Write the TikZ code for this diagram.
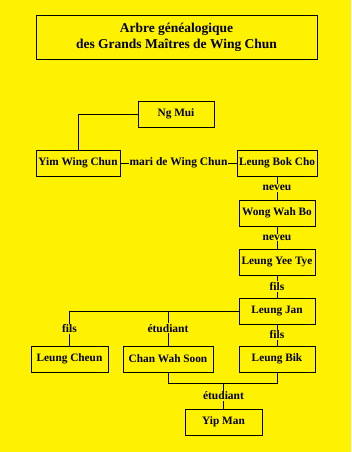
\documentclass[tikz,border=0pt]{standalone}
\usepackage{fontspec}
\setmainfont{Liberation Serif}
\usetikzlibrary{positioning}

\begin{document}
\begin{tikzpicture}[x=1pt,y=-1pt,
    person/.style={draw=black,line width=1pt,minimum height=26pt,minimum width=76pt,inner sep=2pt,align=center,font=\bfseries\fontsize{11.3}{13}\selectfont},
    rel/.style={fill=yellow,inner sep=1pt,font=\bfseries\fontsize{11.5}{13}\selectfont},
    link/.style={line width=1pt}]
    \fill[yellow] (0,0) rectangle (351,452);
    \useasboundingbox (0,0) rectangle (351,452);
    \node[person,minimum width=281pt,minimum height=44pt,font=\bfseries\fontsize{13.5}{16.5}\selectfont] (title) at (176.5,37.5) {Arbre généalogique\\des Grands Maîtres de Wing Chun};
    \node[person] (ngmui) at (176,114) {Ng Mui};
    \node[person,minimum width=84pt] (yim) at (78,163) {Yim Wing Chun};
    \node[person,minimum width=80pt] (bokcho) at (277,163) {Leung Bok Cho};
    \node[person] (wong) at (277,213) {Wong Wah Bo};
    \node[person] (yeetye) at (277,262) {Leung Yee Tye};
    \node[person] (jan) at (277,311) {Leung Jan};
    \node[person,minimum width=77pt] (cheun) at (69.5,359) {Leung Cheun};
    \node[person,minimum width=90pt] (chan) at (168,359) {Chan Wah Soon};
    \node[person] (bik) at (277,359) {Leung Bik};
    \node[person,minimum width=77pt] (yipman) at (223.5,422) {Yip Man};
    % liens
    \draw[link] (ngmui.west) -| (yim.north);
    \draw[link] (yim) -- node[rel]{mari de Wing Chun} (bokcho);
    \draw[link] (bokcho) -- node[rel]{neveu} (wong);
    \draw[link] (wong) -- node[rel]{neveu} (yeetye);
    \draw[link] (yeetye) -- node[rel]{fils} (jan);
    \draw[link] (jan) -- node[rel]{fils} (bik);
    \draw[link] (jan.west) -| node[rel,pos=0.76]{fils} (cheun.north);
    \draw[link] (chan.north) -- node[rel]{étudiant} (chan.north |- jan.west);
    \path (chan.south) ++(0,11) coordinate (mid);
    \coordinate (join) at (yipman.north |- mid);
    \draw[link] (chan.south) |- (join) -| (bik.south);
    \draw[link] (join) -- node[rel]{étudiant} (yipman.north);
\end{tikzpicture}
\end{document}
